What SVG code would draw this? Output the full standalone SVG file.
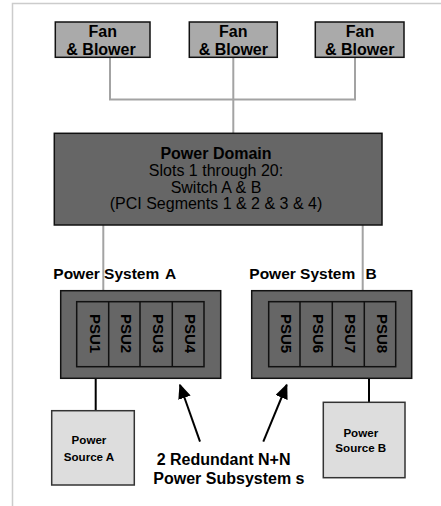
<svg xmlns="http://www.w3.org/2000/svg" width="441" height="506" viewBox="0 0 441 506">
<defs>
<style>
text{font-family:"Liberation Sans",Arial,sans-serif;fill:#000}
.b{font-weight:bold}
.fan{fill:#aaaaaa;stroke:#111;stroke-width:1.5}
.dark{fill:#666666;stroke:#111;stroke-width:1.5}
.src{fill:#dddddd;stroke:#333;stroke-width:1.5}
.gl{stroke:#a3a3a3;stroke-width:2;fill:none}
.bl{stroke:#000;stroke-width:2;fill:none}
.psu{font-size:15px;font-weight:bold;text-anchor:middle}
</style>
<marker id="ah" viewBox="0 0 10 10" refX="9" refY="5" markerWidth="7.5" markerHeight="6.5" markerUnits="strokeWidth" orient="auto" preserveAspectRatio="none">
<path d="M0,0 L10,5 L0,10 z" fill="#000"/>
</marker>
</defs>
<g id="frame">
<path d="M12.5,506 V3.5 H441" fill="none" stroke="#cccccc" stroke-width="1.5"/>
</g>
<g id="connectors">
<path class="gl" d="M110,57 V99.5 H355 V57 M233.3,57 V133"/>
<path class="gl" d="M103.3,225 V291 M362.7,225 V291"/>
<path class="bl" d="M95.7,378 V411 M369,378 V402.5"/>
<line class="bl" x1="200" y1="441.7" x2="180" y2="385" marker-end="url(#ah)"/>
<line class="bl" x1="263.3" y1="441.7" x2="286.7" y2="385" marker-end="url(#ah)"/>
</g>
<g id="fan1">
<rect class="fan" x="55.3" y="22" width="94.7" height="35.3"/>
<text class="b" font-size="16" text-anchor="middle" x="102.7" y="37">Fan</text>
<text class="b" font-size="16" text-anchor="middle" x="101" y="55">&amp; Blower</text>
</g>
<g id="fan2">
<rect class="fan" x="189.3" y="22" width="88" height="35.3"/>
<text class="b" font-size="16" text-anchor="middle" x="233.3" y="37">Fan</text>
<text class="b" font-size="16" text-anchor="middle" x="233.3" y="55">&amp; Blower</text>
</g>
<g id="fan3">
<rect class="fan" x="315.3" y="22" width="88.7" height="35.3"/>
<text class="b" font-size="16" text-anchor="middle" x="360" y="37">Fan</text>
<text class="b" font-size="16" text-anchor="middle" x="359.7" y="55">&amp; Blower</text>
</g>
<g id="powerdomain">
<rect class="dark" x="54.3" y="133.3" width="327.7" height="91.7" stroke-width="2"/>
<text font-size="16" text-anchor="middle" x="216" y="159.3" class="b">Power Domain</text>
<text font-size="16" text-anchor="middle" x="216" y="176">Slots 1 through 20:</text>
<text font-size="16" text-anchor="middle" x="216" y="192.5">Switch A &amp; B</text>
<text font-size="16" text-anchor="middle" x="216" y="208.5">(PCI Segments 1 &amp; 2 &amp; 3 &amp; 4)</text>
</g>
<g id="powersystemA">
<text class="b" font-size="15.5" x="53.3" y="279.3">Power System<tspan x="165">A</tspan></text>
<rect class="dark" x="60.7" y="290.7" width="160" height="87.6"/>
<rect class="dark" x="76.7" y="301.7" width="127.3" height="65"/>
<path d="M108.7,301.7 V366.7 M140,301.7 V366.7 M172.3,301.7 V366.7" stroke="#111" stroke-width="1.5"/>
<text class="psu" transform="translate(89.7,333.5) rotate(90)">PSU1</text>
<text class="psu" transform="translate(121.3,333.5) rotate(90)">PSU2</text>
<text class="psu" transform="translate(153.2,333.5) rotate(90)">PSU3</text>
<text class="psu" transform="translate(185.2,333.5) rotate(90)">PSU4</text>
</g>
<g id="powersystemB">
<text class="b" font-size="15.5" x="249.3" y="279.3">Power System<tspan x="365.5">B</tspan></text>
<rect class="dark" x="251.7" y="290.7" width="160" height="87.6"/>
<rect class="dark" x="268.7" y="301.7" width="127" height="65"/>
<path d="M300,301.7 V366.7 M332.3,301.7 V366.7 M364.3,301.7 V366.7" stroke="#111" stroke-width="1.5"/>
<text class="psu" transform="translate(281.4,333.5) rotate(90)">PSU5</text>
<text class="psu" transform="translate(313.2,333.5) rotate(90)">PSU6</text>
<text class="psu" transform="translate(345.3,333.5) rotate(90)">PSU7</text>
<text class="psu" transform="translate(377,333.5) rotate(90)">PSU8</text>
</g>
<g id="sourceA">
<rect class="src" x="51.7" y="410.7" width="82.6" height="74.3"/>
<text class="b" font-size="11.6" text-anchor="middle" x="89" y="444">Power</text>
<text class="b" font-size="11.6" text-anchor="middle" x="89" y="461">Source A</text>
</g>
<g id="sourceB">
<rect class="src" x="323.3" y="402.3" width="81.7" height="75.4"/>
<text class="b" font-size="11.6" text-anchor="middle" x="360.8" y="436.7">Power</text>
<text class="b" font-size="11.6" text-anchor="middle" x="360.8" y="451.7">Source B</text>
</g>
<g id="label">
<text class="b" font-size="16" x="156.7" y="464.5">2 Redundant N+N</text>
<text class="b" font-size="16" x="153.3" y="484.3">Power Subsystem s</text>
</g>
</svg>
